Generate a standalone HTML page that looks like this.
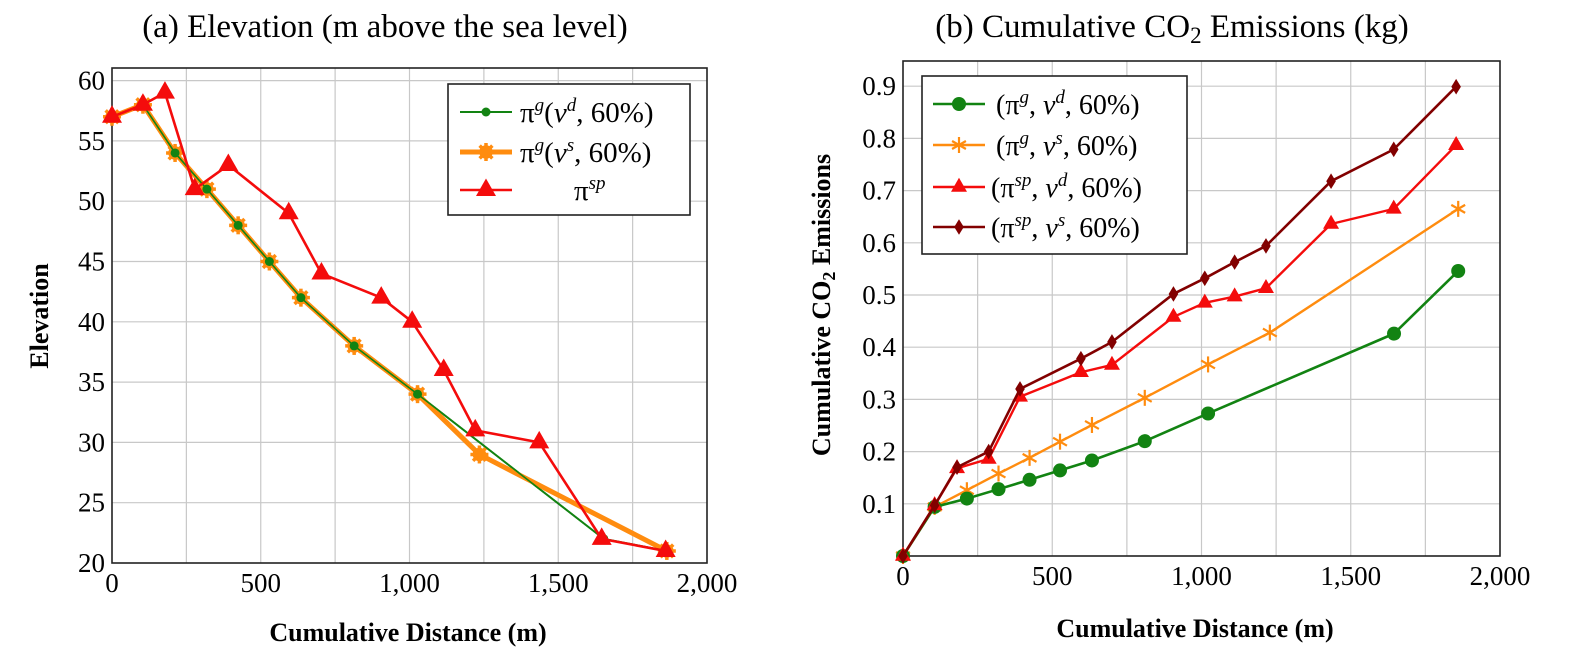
<!DOCTYPE html>
<html><head><meta charset="utf-8"><style>
html,body{margin:0;padding:0;background:#fff}
svg{display:block;font-family:"Liberation Serif",serif}
</style></head><body>
<svg id="svg" width="1578" height="663" viewBox="0 0 1578 663" xmlns="http://www.w3.org/2000/svg">
<g id="A"></g>
<g id="B"></g>
</svg>
<script>
// Chart (a) data
const aXTicks = [0, 500, 1000, 1500, 2000];
const aXTickLabels = ["0", "500", "1,000", "1,500", "2,000"];
const aYTicks = [20, 25, 30, 35, 40, 45, 50, 55, 60];
const aGreenX = [0, 104, 212, 319, 424, 529, 635, 814, 1027, 1653, 1865];
const aGreenY = [57, 58, 54, 51, 48, 45, 42, 38, 34, 22, 21];
const aOrangeX = [0, 104, 212, 319, 424, 529, 635, 814, 1027, 1235, 1865];
const aOrangeY = [57, 58, 54, 51, 48, 45, 42, 38, 34, 29, 21];
const aRedX = [0, 104, 178, 278, 391, 594, 704, 905, 1009, 1115, 1221, 1436, 1646, 1861];
const aRedY = [57, 58, 59, 51, 53, 49, 44, 42, 40, 36, 31, 30, 22, 21];
// Chart (b) data
const bXTicks = [0, 500, 1000, 1500, 2000];
const bXTickLabels = ["0", "500", "1,000", "1,500", "2,000"];
const bYTicks = [0.1, 0.2, 0.3, 0.4, 0.5, 0.6, 0.7, 0.8, 0.9];
const bGX = [0, 106, 214, 320, 424, 526, 633, 810, 1022, 1645, 1860];
const bGY = [0, 0.094, 0.11, 0.128, 0.146, 0.164, 0.183, 0.22, 0.273, 0.426, 0.546];
const bOX = [0, 106, 214, 320, 424, 526, 633, 810, 1022, 1229, 1860];
const bOY = [0, 0.094, 0.126, 0.158, 0.188, 0.219, 0.251, 0.303, 0.367, 0.428, 0.665];
const bRX = [0, 106, 181, 287, 392, 596, 700, 906, 1011, 1111, 1216, 1434, 1644, 1853];
const bRY = [0, 0.097, 0.168, 0.186, 0.305, 0.352, 0.366, 0.458, 0.485, 0.497, 0.513, 0.636, 0.665, 0.787];
const bDX = [0, 106, 181, 287, 392, 596, 700, 906, 1011, 1111, 1216, 1434, 1644, 1853];
const bDY = [0, 0.097, 0.17, 0.2, 0.32, 0.378, 0.41, 0.502, 0.532, 0.563, 0.594, 0.718, 0.779, 0.899];

const NS = "http://www.w3.org/2000/svg";
function mk(parent, tag, attrs, text) {
  const e = document.createElementNS(NS, tag);
  for (const k in attrs) e.setAttribute(k, attrs[k]);
  if (text !== undefined) e.textContent = text;
  parent.appendChild(e);
  return e;
}
function marker(g, type, x, y, color, s) {
  let m;
  if (type === "circle") m = mk(g, "circle", {cx: x, cy: y, r: s, fill: color});
  else if (type === "tri") m = mk(g, "polygon", {points: `${x},${y - s * 1.15} ${x - s},${y + s * 0.6} ${x + s},${y + s * 0.6}`, fill: color});
  else if (type === "diamond") m = mk(g, "polygon", {points: `${x},${y - s * 1.3} ${x + s * 0.8},${y} ${x},${y + s * 1.3} ${x - s * 0.8},${y}`, fill: color});
  else if (type === "star") {
    m = mk(g, "g", {stroke: color, "stroke-width": 2.2});
    for (let i = 0; i < 3; i++) {
      const a = Math.PI / 2 + i * Math.PI / 3;
      mk(m, "line", {x1: x - s * Math.cos(a), y1: y - s * Math.sin(a), x2: x + s * Math.cos(a), y2: y + s * Math.sin(a)});
    }
  } else if (type === "bigstar") {
    m = mk(g, "g", {fill: color});
    mk(m, "circle", {cx: x, cy: y, r: s * 0.75});
    for (let i = 0; i < 4; i++) {
      const a = i * Math.PI / 4;
      mk(m, "line", {x1: x - s * Math.cos(a), y1: y - s * Math.sin(a), x2: x + s * Math.cos(a), y2: y + s * Math.sin(a), stroke: color, "stroke-width": 3.5});
    }
  }
  return m;
}
function axesFrame(g, L, R, T, B, sx, sy, xg, yg, xTicks, xLabels, yTicks, yLabel) {
  const grid = mk(g, "g", {stroke: "#c8c8c8", "stroke-width": 1.2});
  
  
  xg.forEach(v => mk(grid, "line", {x1: sx(v), x2: sx(v), y1: T, y2: B}));
  yg.forEach(v => mk(grid, "line", {x1: L, x2: R, y1: sy(v), y2: sy(v)}));
  const fr = mk(g, "rect", {x: L, y: T, width: R - L, height: B - T, fill: "none", stroke: "#222", "stroke-width": 1.6});
  
  
  xTicks.forEach((v, i) => {
    const t = mk(g, "text", {x: sx(v), y: B + 29, "text-anchor": "middle", "font-size": 27}, xLabels[i]);
    
    
  });
  yTicks.forEach(v => {
    const t = mk(g, "text", {x: L - 7, y: sy(v) + 9, "text-anchor": "end", "font-size": 27}, yLabel(v));
    
    
  });
}
function series(g, name, xs, ys, sx, sy, color, lw, mtype, ms) {
  const s = mk(g, "g", {});
  
  
  const pts = xs.map((x, i) => sx(x) + "," + sy(ys[i])).join(" ");
  mk(s, "polyline", {points: pts, fill: "none", stroke: color, "stroke-width": lw, "stroke-linejoin": "round"});
  xs.forEach((x, i) => {
    const m = marker(s, mtype, sx(x), sy(ys[i]), color, ms);
    
    
  });
}

// ---- Chart A ----
(function () {
  const g = document.getElementById("A");
  const L = 112, R = 707, T = 68, B = 563;
  const sx = v => L + (v / 2000) * (R - L);
  const sy = v => B - (v - 20) / 5 * 60.3;
  const xg = [], yg = [];
  for (let v = 250; v < 2000; v += 250) xg.push(v);
  for (let v = 25; v <= 60; v += 5) yg.push(v);
  axesFrame(g, L, R, T, B, sx, sy, xg, yg, aXTicks, aXTickLabels, aYTicks, v => String(v));
  series(g, "series-green-pi-g-vd", aGreenX, aGreenY, sx, sy, "#128312", 2, "circle", 4.5);
  series(g, "series-orange-pi-g-vs", aOrangeX, aOrangeY, sx, sy, "#ff8c0f", 5, "bigstar", 9);
  const gl = mk(g, "polyline", {points: aGreenX.map((x, i) => sx(x) + "," + sy(aGreenY[i])).join(" "), fill: "none", stroke: "#128312", "stroke-width": 1.6});
  
  
  aGreenX.forEach((x, i) => mk(g, "circle", {cx: sx(x), cy: sy(aGreenY[i]), r: 4.5, fill: "#128312"}));
  series(g, "series-red-pi-sp", aRedX, aRedY, sx, sy, "#f40c0c", 2.6, "tri", 10);
  const lg = mk(g, "g", {});
  
  
  mk(lg, "rect", {x: 448, y: 84, width: 242, height: 131, fill: "#fff", stroke: "#222", "stroke-width": 1.6});
  const rows = [[112, "#128312", 2, "circle", 4.5], [152, "#ff8c0f", 5, "bigstar", 9], [190, "#f40c0c", 2.6, "tri", 10]];
  rows.forEach(r => {
    mk(lg, "line", {x1: 460, x2: 512, y1: r[0], y2: r[0], stroke: r[1], "stroke-width": r[2]});
    marker(lg, r[3], 486, r[0], r[1], r[4]);
  });
  let t = mk(lg, "text", {x: 520, y: 122, "font-size": 29});
  t.innerHTML = 'π<tspan dy="-11" font-size="19" font-style="italic">g</tspan><tspan dy="11">(</tspan><tspan font-style="italic">v</tspan><tspan dy="-11" font-size="19" font-style="italic">d</tspan><tspan dy="11">, 60%)</tspan>';
  
  
  t = mk(lg, "text", {x: 520, y: 162, "font-size": 29});
  t.innerHTML = 'π<tspan dy="-11" font-size="19" font-style="italic">g</tspan><tspan dy="11">(</tspan><tspan font-style="italic">v</tspan><tspan dy="-11" font-size="19" font-style="italic">s</tspan><tspan dy="11">, 60%)</tspan>';
  
  
  t = mk(lg, "text", {x: 574, y: 200, "font-size": 29});
  t.innerHTML = 'π<tspan dy="-11" font-size="19" font-style="italic">sp</tspan>';
  
  
  t = mk(g, "text", {x: 385, y: 37, "text-anchor": "middle", "font-size": 33}, "(a) Elevation (m above the sea level)");
  
  
  t = mk(g, "text", {x: 408, y: 641, "text-anchor": "middle", "font-size": 26, "font-weight": "bold"}, "Cumulative Distance (m)");
  
  
  t = mk(g, "text", {x: 0, y: 0, "text-anchor": "middle", "font-size": 26, "font-weight": "bold", transform: "translate(48,316) rotate(-90)"}, "Elevation");
  
  
})();

// ---- Chart B ----
(function () {
  const g = document.getElementById("B");
  const L = 903, R = 1500, T = 61, B = 556;
  const sx = v => L + (v / 2000) * (R - L);
  const sy = v => B - v * 522;
  const xg = [], yg = [];
  for (let v = 250; v < 2000; v += 250) xg.push(v);
  for (let v = 1; v <= 9; v++) yg.push(v / 10);
  axesFrame(g, L, R, T, B, sx, sy, xg, yg, bXTicks, bXTickLabels, bYTicks, v => v.toFixed(1));
  series(g, "series-orange", bOX, bOY, sx, sy, "#ff8c0f", 2.4, "star", 8);
  series(g, "series-green", bGX, bGY, sx, sy, "#128312", 2.6, "circle", 7);
  series(g, "series-red", bRX, bRY, sx, sy, "#f40c0c", 2.4, "tri", 8);
  series(g, "series-darkred", bDX, bDY, sx, sy, "#820000", 2.6, "diamond", 6);
  const lg = mk(g, "g", {});
  
  
  mk(lg, "rect", {x: 922, y: 76, width: 265, height: 178, fill: "#fff", stroke: "#222", "stroke-width": 1.6});
  const rows = [[104, "#128312", 2.6, "circle", 7, "g", "d"], [145, "#ff8c0f", 2.4, "star", 8, "g", "s"], [187, "#f40c0c", 2.4, "tri", 8, "sp", "d"], [227, "#820000", 2.6, "diamond", 6, "sp", "s"]];
  rows.forEach(r => {
    mk(lg, "line", {x1: 933, x2: 985, y1: r[0], y2: r[0], stroke: r[1], "stroke-width": r[2]});
    marker(lg, r[3], 959, r[0], r[1], r[4]);
    const x0 = r[5] === "g" ? 996 : 991;
    const t = mk(lg, "text", {x: x0, y: r[0] + 10, "font-size": 28});
    t.innerHTML = '(π<tspan dy="-11" font-size="19" font-style="italic">' + r[5] + '</tspan><tspan dy="11">, </tspan><tspan font-style="italic">v</tspan><tspan dy="-11" font-size="19" font-style="italic">' + r[6] + '</tspan><tspan dy="11">, 60%)</tspan>';
    
    
  });
  let t = mk(g, "text", {x: 1172, y: 37, "text-anchor": "middle", "font-size": 33});
  t.innerHTML = '(b) Cumulative CO<tspan dy="6" font-size="23">2</tspan><tspan dy="-6"> Emissions (kg)</tspan>';
  
  
  t = mk(g, "text", {x: 1195, y: 637, "text-anchor": "middle", "font-size": 26, "font-weight": "bold"}, "Cumulative Distance (m)");
  
  
  t = mk(g, "text", {x: 0, y: 0, "text-anchor": "middle", "font-size": 26, "font-weight": "bold", transform: "translate(830,305) rotate(-90)"});
  t.innerHTML = 'Cumulative CO<tspan dy="5" font-size="18">2</tspan><tspan dy="-5"> Emissions</tspan>';
  
  
})();
</script>
</body></html>
